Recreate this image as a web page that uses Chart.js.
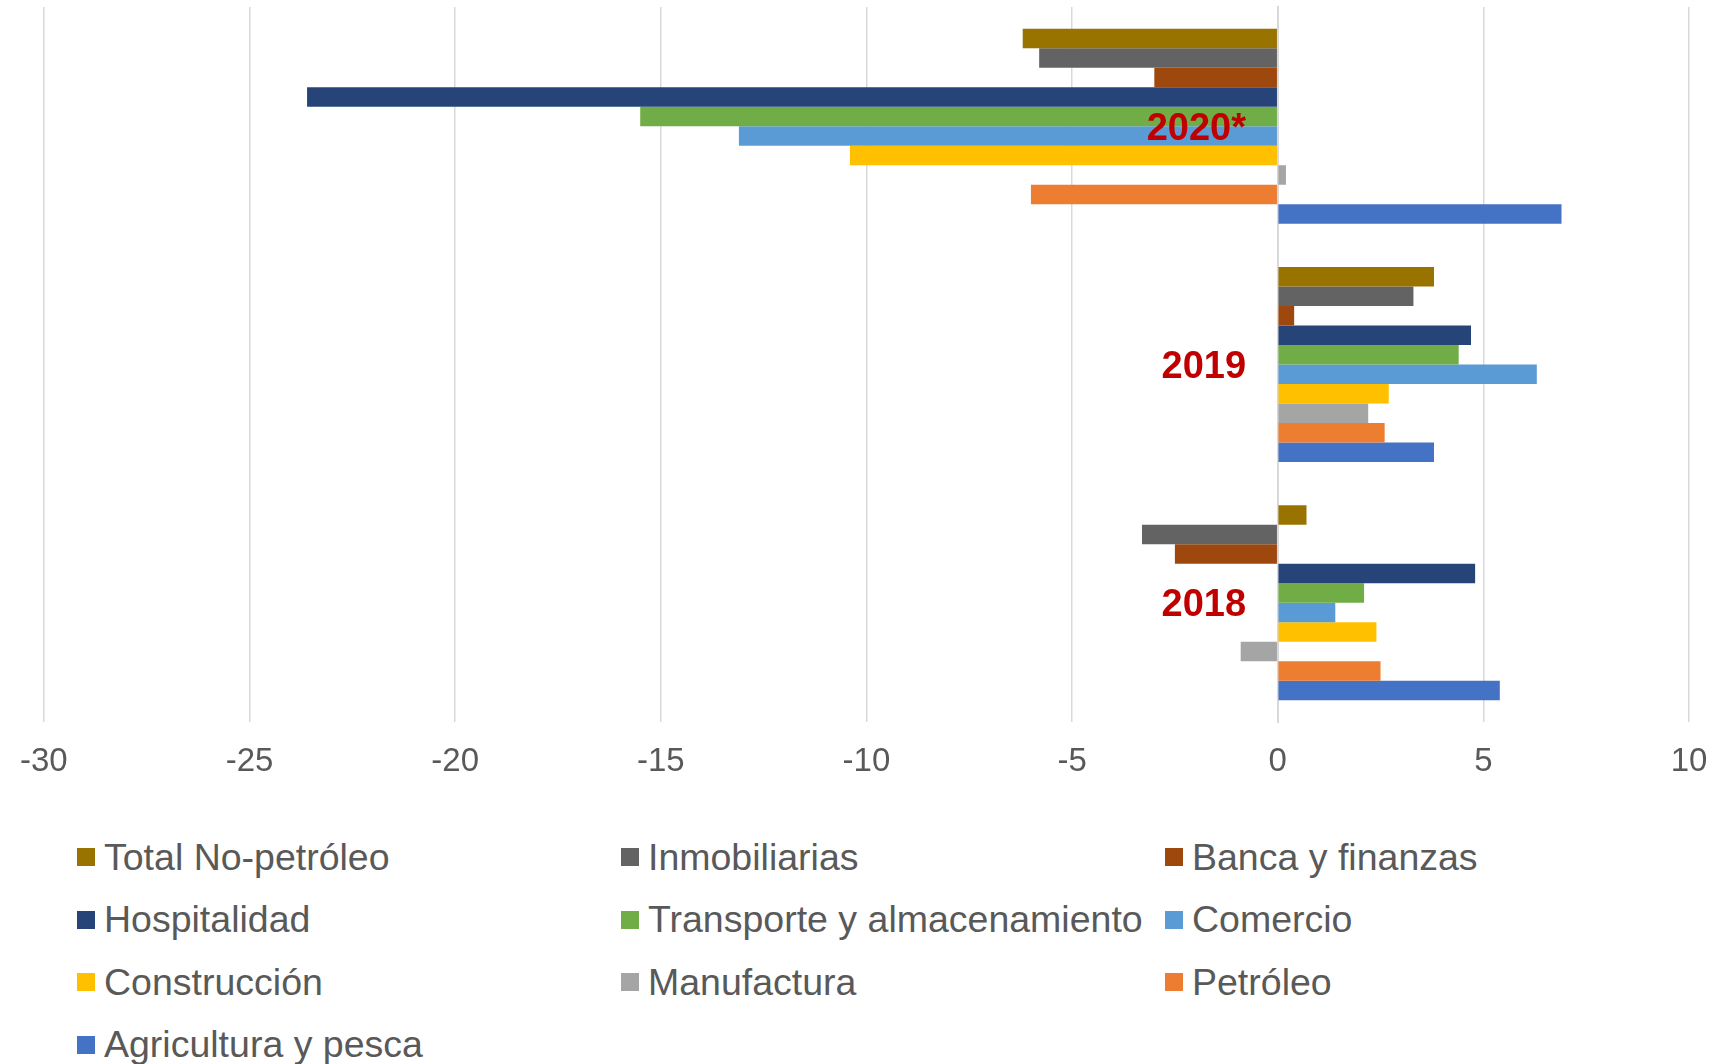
<!DOCTYPE html>
<html lang="es">
<head>
<meta charset="utf-8">
<title>Crecimiento por sector</title>
<script src="https://cdn.jsdelivr.net/npm/chart.js@4"></script>
<style>
  body { margin: 0; background: #fff; }
  #wrap { position: relative; width: 1731px; height: 1064px; overflow: hidden; }
  #chart { position: absolute; left: 0; top: 0; }
  #legend {
    position: absolute; left: 77px; top: 826px;
    display: grid; grid-template-columns: 544px 544px 544px;
    grid-auto-rows: 62.5px;
    font-family: "Liberation Sans", Arial, sans-serif; font-size: 37.5px; color: #595959;
  }
  .item { display: flex; align-items: center; white-space: nowrap; }
  .box { width: 18px; height: 18px; margin-right: 9px; flex: none; }
</style>
</head>
<body>
<div id="wrap">
  <canvas id="chart" width="1731" height="782"></canvas>
  <div id="legend"></div>
</div>
<script>
// categorías (de arriba hacia abajo)
const categories = ["2020*", "2019", "2018"];

// series, en el orden de la leyenda
const seriesNames = [
  "Total No-petróleo",
  "Inmobiliarias",
  "Banca y finanzas",
  "Hospitalidad",
  "Transporte y almacenamiento",
  "Comercio",
  "Construcción",
  "Manufactura",
  "Petróleo",
  "Agricultura y pesca",
];
const seriesColors = [
  "#997300", "#636363", "#9E480E", "#264478", "#70AD47",
  "#5B9BD5", "#FFC000", "#A5A5A5", "#ED7D31", "#4472C4",
];

// valores: [2020*, 2019, 2018]
const totalNoPetroleo = [-6.2, 3.8, 0.7];
const inmobiliarias = [-5.8, 3.3, -3.3];
const bancaFinanzas = [-3.0, 0.4, -2.5];
const hospitalidad = [-23.6, 4.7, 4.8];
const transporte = [-15.5, 4.4, 2.1];
const comercio = [-13.1, 6.3, 1.4];
const construccion = [-10.4, 2.7, 2.4];
const manufactura = [0.2, 2.2, -0.9];
const petroleo = [-6.0, 2.6, 2.5];
const agricultura = [6.9, 3.8, 5.4];

const seriesValues = [
  totalNoPetroleo, inmobiliarias, bancaFinanzas, hospitalidad, transporte,
  comercio, construccion, manufactura, petroleo, agricultura,
];

// ticks del eje X
const xTicks = [-30, -25, -20, -15, -10, -5, 0, 5, 10];

const FONT = "'Liberation Sans', Arial, sans-serif";
const GRID = "#D9D9D9";

const datasets = seriesNames.map((name, i) => ({
  label: name,
  data: seriesValues[i],
  backgroundColor: seriesColors[i],
  borderWidth: 0,
  barPercentage: 1,
  categoryPercentage: 0.818,
}));

new Chart(document.getElementById("chart"), {
  type: "bar",
  data: { labels: categories, datasets: datasets },
  options: {
    indexAxis: "y",
    responsive: false,
    animation: false,
    layout: { padding: { top: 7, left: 37, right: 42, bottom: 0 } },
    plugins: { legend: { display: false }, tooltip: { enabled: false } },
    scales: {
      x: {
        min: xTicks[0],
        max: xTicks[xTicks.length - 1],
        afterBuildTicks: (scale) => {
          scale.ticks = xTicks.map((v) => ({ value: v }));
        },
        afterFit: (scale) => { scale.height = 60; },
        grid: { color: GRID, lineWidth: 1.5, drawTicks: false },
        border: { display: false },
        ticks: {
          padding: 20,
          color: "#595959",
          font: { family: FONT, size: 33 },
        },
      },
      y: {
        position: { x: 0 }, // etiquetas de año junto al eje en cero
        afterFit: (scale) => {
          scale.width = 0;
          scale.paddingTop = 0;
          scale.paddingBottom = 0;
        },
        grid: { drawOnChartArea: false, drawTicks: false },
        border: { display: true, color: GRID, width: 2 },
        ticks: {
          z: 1, // por encima de las barras, como en el original
          labelOffset: 3,
          color: "#C00000",
          font: { family: FONT, size: 38, weight: "bold" },
          // separación respecto al eje
          callback: (value, index) => categories[index] + "   ",
        },
      },
    },
  },
});

// leyenda en HTML, en tres columnas como el original
const legendEl = document.getElementById("legend");
seriesNames.forEach((name, i) => {
  const item = document.createElement("div");
  item.className = "item";
  item.innerHTML = `<span class="box" style="background:${seriesColors[i]}"></span><span>${name}</span>`;
  legendEl.appendChild(item);
});
</script>
</body>
</html>
